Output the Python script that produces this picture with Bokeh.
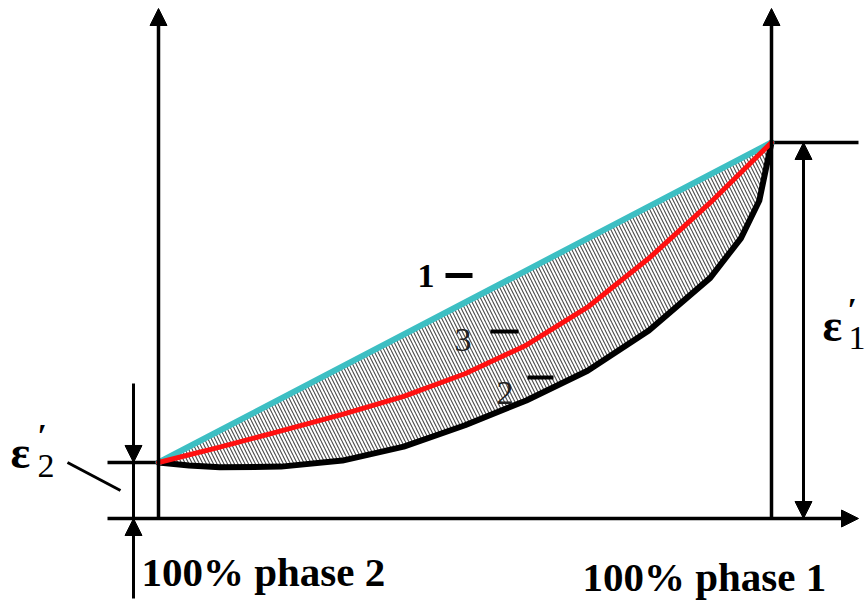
import numpy as np
from bokeh.plotting import figure
from bokeh.models import Range1d, Arrow, NormalHead
from bokeh.core.properties import value
from bokeh.embed import file_html
from bokeh.resources import INLINE

# ---- data (composition c = fraction of phase 1, strain normalised to eps1') ----
eps2 = 0.149
eps1 = 1.0
line1_c = [0.0, 1.0]
line1_e = [eps2, eps1]
line3_c = [0.0, 0.1, 0.2, 0.3, 0.4, 0.5, 0.6, 0.7, 0.8, 0.9, 1.0]
line3_e = [0.149, 0.190, 0.233, 0.277, 0.325, 0.385, 0.461, 0.562, 0.692, 0.840, 1.0]
line2_c = [0.0, 0.05, 0.1, 0.2, 0.3, 0.4, 0.5, 0.6, 0.7, 0.8, 0.9, 0.95, 0.98, 1.0]
line2_e = [0.149, 0.141, 0.136, 0.138, 0.154, 0.191, 0.248, 0.314, 0.393, 0.500, 0.640, 0.745, 0.845, 1.0]
curve_labels = ["1", "3", "2"]
axis_labels = ["100% phase 2", "100% phase 1"]

W, H = 867, 601
x0, sx = 158.0, 613.0
y0, sy = 518.0, 376.0
def cx(px): return (px - x0) / sx
def ey(py): return (y0 - py) / sy

p = figure(width=W, height=H, output_backend="svg", toolbar_location=None,
           x_range=Range1d(cx(0), cx(W)), y_range=Range1d(ey(H), ey(0)),
           min_border=0)
p.axis.visible = False
p.grid.visible = False
p.outline_line_color = None
p.background_fill_color = "white"
p.border_fill_color = "white"

# hatched region between line 1 and line 2
poly_x = list(line2_c) + line1_c[::-1]
poly_y = list(line2_e) + line1_e[::-1]
p.patch(poly_x, poly_y, fill_color="white", line_color=None,
        hatch_pattern="left_diagonal_line", hatch_color="#4a4a4a",
        hatch_scale=7, hatch_weight=1.1)

AX = 3.5
def head():
    return NormalHead(size=17, fill_color="black", line_color="black", line_width=1)

# main axes
p.add_layout(Arrow(end=head(), x_start=0, y_start=0, x_end=0, y_end=ey(8), line_width=AX))
p.add_layout(Arrow(end=head(), x_start=1, y_start=0, x_end=1, y_end=ey(8), line_width=AX))
p.add_layout(Arrow(end=head(), x_start=cx(107), y_start=0, x_end=cx(858), y_end=0, line_width=AX))
# level lines
p.line([cx(107), 0], [eps2, eps2], line_color="black", line_width=AX)
p.line([1, cx(858)], [eps1, eps1], line_color="black", line_width=AX)
# eps2 dimension
xl = cx(133)
p.add_layout(Arrow(end=head(), x_start=xl, y_start=ey(383), x_end=xl, y_end=eps2, line_width=3))
p.add_layout(Arrow(end=head(), x_start=xl, y_start=ey(598), x_end=xl, y_end=0, line_width=3))
p.line([xl, xl], [0, eps2], line_color="black", line_width=3)
p.line([cx(67), cx(120)], [ey(462), ey(490)], line_color="black", line_width=3)
# eps1 dimension
xr = cx(803)
p.add_layout(Arrow(start=head(), end=head(), x_start=xr, y_start=0, x_end=xr, y_end=eps1, line_width=3))

# curves
p.line(line2_c, line2_e, line_color="black", line_width=6, line_join="round", line_cap="round")
p.line(line1_c, line1_e, line_color="#3dbfc3", line_width=6, line_cap="round")
p.line(line3_c, line3_e, line_color="#ff1010", line_width=5, line_join="round", line_cap="round")

serif = value("Liberation Serif")

def label(px, py, txt, fs, bold=True, color="black"):
    # py is the visual baseline in pixels; compensate renderer baseline offset
    p.text([cx(px)], [ey(py - 0.33 * fs)], text=[txt], text_font=serif,
           text_font_size=f"{fs}px", text_font_style="bold" if bold else "normal",
           text_color=color, text_baseline="alphabetic")

# curve labels
label(417, 287, curve_labels[0], 34, True)
label(454, 351, curve_labels[1], 34, False, "#222222")
label(496, 404, curve_labels[2], 34, False, "#222222")
p.line([cx(445), cx(472)], [ey(275), ey(275)], line_color="black", line_width=5)
p.line([cx(490), cx(518)], [ey(331), ey(331)], line_color="black", line_width=4)
p.line([cx(527), cx(553)], [ey(377), ey(377)], line_color="black", line_width=4)

# bottom labels
label(141, 585, axis_labels[0], 41, True)
label(582, 590, axis_labels[1], 41, True)

# epsilon labels
label(10, 467, "ε", 46, True)
label(37, 477, "2", 34, False)
label(37, 446, "′", 34, True)

label(822, 340, "ε", 46, True)
label(848, 349, "1", 34, False)
label(847, 320, "′", 34, True)

open("out.html", "w").write(file_html(p, INLINE))
